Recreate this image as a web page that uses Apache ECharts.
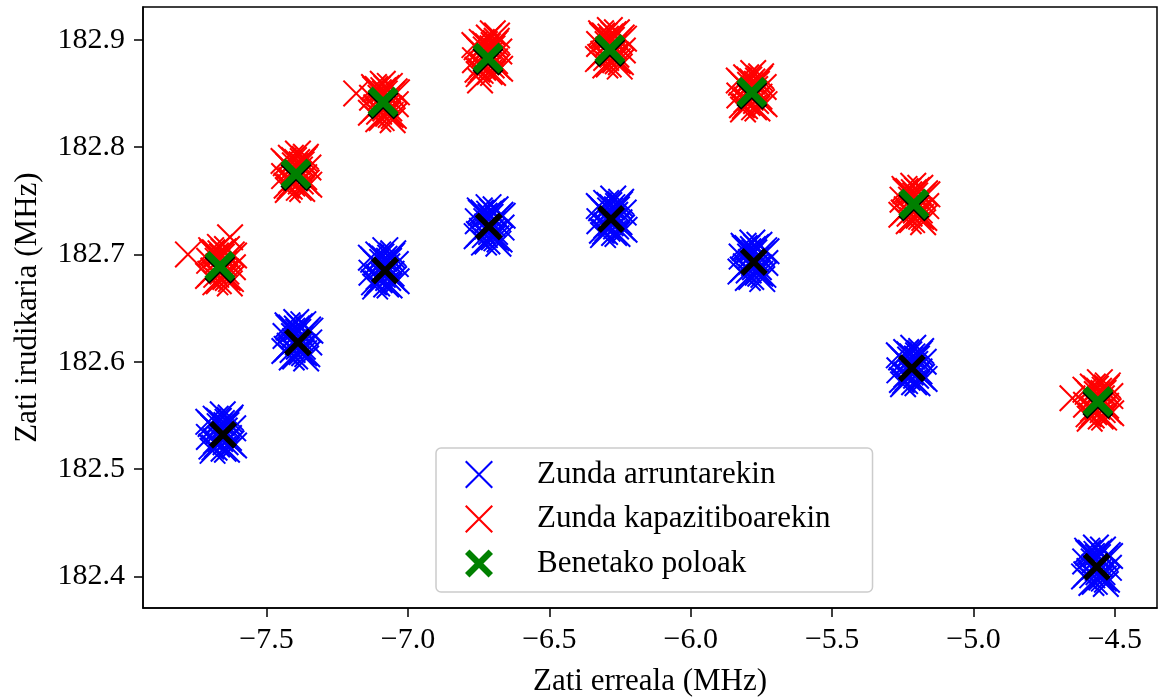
<!DOCTYPE html>
<html>
<head>
<meta charset="utf-8">
<script src="https://cdn.jsdelivr.net/npm/echarts@6/dist/echarts.min.js"></script>
<style>
html,body{margin:0;padding:0;background:#fff;}
#chart{width:1159px;height:697px;}
</style>
</head>
<body>
<div id="chart"></div>
<script>
// ---- Data ----
// Zunda arruntarekin (blue x markers): real parts (MHz)
const blueRe = [
  -7.660,-7.642,-7.679,-7.627,-7.695,-7.652,-7.669,-7.618,-7.704,-7.675,-7.655,-7.633,-7.688,-7.648,-7.664,-7.638,-7.684,-7.624,-7.698,-7.658,-7.672,-7.645,-7.680,-7.631,-7.691,-7.651,-7.666,-7.615,-7.706,-7.640,
  -7.389,-7.409,-7.372,-7.426,-7.356,-7.399,-7.382,-7.433,-7.349,-7.376,-7.395,-7.418,-7.363,-7.403,-7.386,-7.413,-7.367,-7.429,-7.353,-7.393,-7.379,-7.408,-7.370,-7.422,-7.360,-7.400,-7.388,-7.437,-7.345,-7.411,
  -7.085,-7.067,-7.104,-7.052,-7.120,-7.077,-7.094,-7.043,-7.129,-7.100,-7.080,-7.058,-7.113,-7.073,-7.089,-7.063,-7.109,-7.049,-7.123,-7.083,-7.097,-7.070,-7.105,-7.056,-7.116,-7.076,-7.091,-7.040,-7.131,-7.065,
  -6.709,-6.729,-6.692,-6.746,-6.676,-6.719,-6.702,-6.753,-6.669,-6.696,-6.715,-6.738,-6.683,-6.723,-6.706,-6.733,-6.687,-6.749,-6.673,-6.713,-6.699,-6.728,-6.690,-6.742,-6.680,-6.720,-6.708,-6.757,-6.665,-6.731,
  -6.279,-6.261,-6.298,-6.246,-6.314,-6.271,-6.288,-6.237,-6.323,-6.294,-6.274,-6.252,-6.307,-6.267,-6.283,-6.257,-6.303,-6.243,-6.317,-6.277,-6.291,-6.264,-6.299,-6.250,-6.310,-6.270,-6.285,-6.234,-6.325,-6.259,
  -5.776,-5.796,-5.759,-5.813,-5.743,-5.786,-5.769,-5.820,-5.736,-5.763,-5.782,-5.805,-5.750,-5.790,-5.773,-5.800,-5.754,-5.816,-5.740,-5.780,-5.766,-5.795,-5.757,-5.809,-5.747,-5.787,-5.775,-5.824,-5.732,-5.798,
  -5.218,-5.200,-5.237,-5.185,-5.253,-5.210,-5.227,-5.176,-5.262,-5.233,-5.213,-5.191,-5.246,-5.206,-5.222,-5.196,-5.242,-5.182,-5.256,-5.216,-5.230,-5.203,-5.238,-5.189,-5.249,-5.209,-5.224,-5.173,-5.264,-5.198,
  -4.561,-4.581,-4.544,-4.598,-4.528,-4.571,-4.554,-4.605,-4.521,-4.548,-4.567,-4.590,-4.535,-4.575,-4.558,-4.585,-4.539,-4.601,-4.525,-4.565,-4.551,-4.580,-4.542,-4.594,-4.532,-4.572,-4.560,-4.609,-4.517,-4.583
];
// Zunda arruntarekin: imaginary parts (MHz)
const blueIm = [
  182.533,182.541,182.526,182.548,182.521,182.519,182.545,182.538,182.530,182.523,182.551,182.529,182.539,182.536,182.528,182.544,182.520,182.524,182.542,182.543,182.535,182.525,182.547,182.546,182.517,182.531,182.540,182.522,182.544,182.518,
  182.618,182.629,182.614,182.634,182.607,182.605,182.633,182.624,182.618,182.609,182.637,182.615,182.627,182.624,182.614,182.632,182.608,182.612,182.630,182.631,182.621,182.611,182.635,182.632,182.603,182.619,182.628,182.610,182.629,182.604,
  182.686,182.694,182.679,182.701,182.674,182.672,182.698,182.691,182.683,182.676,182.704,182.682,182.692,182.689,182.681,182.697,182.673,182.677,182.695,182.696,182.688,182.678,182.700,182.699,182.670,182.684,182.693,182.675,182.697,182.671,
  182.725,182.736,182.721,182.741,182.714,182.712,182.740,182.731,182.725,182.716,182.744,182.722,182.734,182.731,182.721,182.739,182.715,182.719,182.737,182.738,182.728,182.718,182.742,182.739,182.710,182.726,182.735,182.717,182.736,182.711,
  182.734,182.742,182.727,182.749,182.722,182.720,182.746,182.739,182.731,182.724,182.752,182.730,182.740,182.737,182.729,182.745,182.721,182.725,182.743,182.744,182.736,182.726,182.748,182.747,182.718,182.732,182.741,182.723,182.745,182.719,
  182.692,182.703,182.688,182.708,182.681,182.679,182.707,182.698,182.692,182.683,182.711,182.689,182.701,182.698,182.688,182.706,182.682,182.686,182.704,182.705,182.695,182.685,182.709,182.706,182.677,182.693,182.702,182.684,182.703,182.678,
  182.595,182.603,182.588,182.610,182.583,182.581,182.607,182.600,182.592,182.585,182.613,182.591,182.601,182.598,182.590,182.606,182.582,182.586,182.604,182.605,182.597,182.587,182.609,182.608,182.579,182.593,182.602,182.584,182.606,182.580,
  182.408,182.419,182.404,182.424,182.397,182.395,182.423,182.414,182.408,182.399,182.427,182.405,182.417,182.414,182.404,182.422,182.398,182.402,182.420,182.421,182.411,182.401,182.425,182.422,182.393,182.409,182.418,182.400,182.419,182.394
];
// Zunda kapazitiboarekin (red x markers): real parts (MHz)
const redRe = [
  -7.659,-7.679,-7.642,-7.696,-7.626,-7.669,-7.652,-7.703,-7.619,-7.646,-7.665,-7.688,-7.633,-7.673,-7.656,-7.683,-7.637,-7.699,-7.623,-7.663,-7.649,-7.678,-7.640,-7.692,-7.630,-7.670,-7.658,-7.707,-7.615,-7.681,-7.778,-7.629,
  -7.394,-7.376,-7.413,-7.361,-7.429,-7.386,-7.403,-7.352,-7.438,-7.409,-7.389,-7.367,-7.422,-7.382,-7.398,-7.372,-7.418,-7.358,-7.432,-7.392,-7.406,-7.379,-7.414,-7.365,-7.425,-7.385,-7.400,-7.349,-7.440,-7.374,
  -7.083,-7.103,-7.066,-7.120,-7.050,-7.093,-7.076,-7.127,-7.043,-7.070,-7.089,-7.112,-7.057,-7.097,-7.080,-7.107,-7.061,-7.123,-7.047,-7.087,-7.073,-7.102,-7.064,-7.116,-7.054,-7.094,-7.082,-7.131,-7.039,-7.105,-7.183,
  -6.719,-6.701,-6.738,-6.686,-6.754,-6.711,-6.728,-6.677,-6.763,-6.734,-6.714,-6.692,-6.747,-6.707,-6.723,-6.697,-6.743,-6.683,-6.757,-6.717,-6.731,-6.704,-6.739,-6.690,-6.750,-6.710,-6.725,-6.674,-6.765,-6.699,-6.745,-6.685,-6.700,
  -6.280,-6.300,-6.263,-6.317,-6.247,-6.290,-6.273,-6.324,-6.240,-6.267,-6.286,-6.309,-6.254,-6.294,-6.277,-6.304,-6.258,-6.320,-6.244,-6.284,-6.270,-6.299,-6.261,-6.313,-6.251,-6.291,-6.279,-6.328,-6.236,-6.302,
  -5.784,-5.766,-5.803,-5.751,-5.819,-5.776,-5.793,-5.742,-5.828,-5.799,-5.779,-5.757,-5.812,-5.772,-5.788,-5.762,-5.808,-5.748,-5.822,-5.782,-5.796,-5.769,-5.804,-5.755,-5.815,-5.775,-5.790,-5.739,-5.830,-5.764,
  -5.207,-5.227,-5.190,-5.244,-5.174,-5.217,-5.200,-5.251,-5.167,-5.194,-5.213,-5.236,-5.181,-5.221,-5.204,-5.231,-5.185,-5.247,-5.171,-5.211,-5.197,-5.226,-5.188,-5.240,-5.178,-5.218,-5.206,-5.255,-5.163,-5.229,
  -4.558,-4.540,-4.577,-4.525,-4.593,-4.550,-4.567,-4.516,-4.602,-4.573,-4.553,-4.531,-4.586,-4.546,-4.562,-4.536,-4.582,-4.522,-4.596,-4.556,-4.570,-4.543,-4.578,-4.529,-4.589,-4.549,-4.564,-4.513,-4.604,-4.538,-4.650
];
// Zunda kapazitiboarekin: imaginary parts (MHz)
const redIm = [
  182.688,182.699,182.684,182.704,182.677,182.675,182.703,182.694,182.688,182.679,182.707,182.685,182.697,182.694,182.684,182.702,182.678,182.682,182.700,182.701,182.691,182.681,182.705,182.702,182.673,182.689,182.698,182.680,182.699,182.674,182.700,182.716,
  182.776,182.784,182.769,182.791,182.764,182.762,182.788,182.781,182.773,182.766,182.794,182.772,182.782,182.779,182.771,182.787,182.763,182.767,182.785,182.786,182.778,182.768,182.790,182.789,182.760,182.774,182.783,182.765,182.787,182.761,
  182.840,182.851,182.836,182.856,182.829,182.827,182.855,182.846,182.840,182.831,182.859,182.837,182.849,182.846,182.836,182.854,182.830,182.834,182.852,182.853,182.843,182.833,182.857,182.854,182.825,182.841,182.850,182.832,182.851,182.826,182.850,
  182.884,182.892,182.877,182.899,182.872,182.870,182.896,182.889,182.881,182.874,182.902,182.880,182.890,182.887,182.879,182.895,182.871,182.875,182.893,182.894,182.886,182.876,182.898,182.897,182.868,182.882,182.891,182.873,182.895,182.869,182.862,182.904,182.906,
  182.890,182.901,182.886,182.906,182.879,182.877,182.905,182.896,182.890,182.881,182.909,182.887,182.899,182.896,182.886,182.904,182.880,182.884,182.902,182.903,182.893,182.883,182.907,182.904,182.875,182.891,182.900,182.882,182.901,182.876,
  182.851,182.859,182.844,182.866,182.839,182.837,182.863,182.856,182.848,182.841,182.869,182.847,182.857,182.854,182.846,182.862,182.838,182.842,182.860,182.861,182.853,182.843,182.865,182.864,182.835,182.849,182.858,182.840,182.862,182.836,
  182.745,182.756,182.741,182.761,182.734,182.732,182.760,182.751,182.745,182.736,182.764,182.742,182.754,182.751,182.741,182.759,182.735,182.739,182.757,182.758,182.748,182.738,182.762,182.759,182.730,182.746,182.755,182.737,182.756,182.731,
  182.563,182.571,182.556,182.578,182.551,182.549,182.575,182.568,182.560,182.553,182.581,182.559,182.569,182.566,182.558,182.574,182.550,182.554,182.572,182.573,182.565,182.555,182.577,182.576,182.547,182.561,182.570,182.552,182.574,182.548,182.566
];
// Benetako poloak (green X)
const truePoleRe = [-7.665,-7.396,-7.088,-6.717,-6.286,-5.784,-5.211,-4.560];
const truePoleIm = [182.689,182.775,182.842,182.883,182.891,182.851,182.747,182.563];
// True poles of the plain probe (black x, no legend entry)
const plainPoleRe = [-7.654,-7.389,-7.081,-6.714,-6.282,-5.777,-5.218,-4.564];
const plainPoleIm = [182.532,182.618,182.685,182.726,182.733,182.693,182.594,182.409];

const xTicks = [-7.5,-7.0,-6.5,-6.0,-5.5,-5.0,-4.5];
const yTicks = [182.4,182.5,182.6,182.7,182.8,182.9];
const xLabel = 'Zati erreala (MHz)';
const yLabel = 'Zati irudikaria (MHz)';
const seriesNames = ['Zunda arruntarekin','Zunda kapazitiboarekin','Benetako poloak'];

// ---- Chart ----
const zip = (a, b) => a.map((v, i) => [v, b[i]]);
// filled "x" shapes (two diagonal bars with flat ends)
const X_THIN  = 'path://M2.8,-2.8L102.8,97.2L97.2,102.8L-2.8,2.8ZM102.8,2.8L2.8,102.8L-2.8,97.2L97.2,-2.8Z';
const X_BLACK = 'path://M8.1,-8.1L108.1,91.9L91.9,108.1L-8.1,8.1ZM108.1,8.1L8.1,108.1L-8.1,91.9L91.9,-8.1Z';
const X_GREEN = 'path://M9.5,-9.5L109.5,90.5L90.5,109.5L-9.5,9.5ZM109.5,9.5L9.5,109.5L-9.5,90.5L90.5,-9.5Z';
const FONT = 'Liberation Serif';

const chart = echarts.init(document.getElementById('chart'), null, {renderer: 'canvas'});
const axisCommon = {
  axisLine: {show: true, onZero: false, lineStyle: {color: '#000', width: 1.5}},
  splitLine: {show: false},
  nameTextStyle: {fontFamily: FONT, fontSize: 31, color: '#000'}
};
chart.setOption({
  animation: false,
  backgroundColor: '#fff',
  grid: {left: 143, right: 2, top: 7, bottom: 89, show: true, borderColor: '#000', borderWidth: 1.5,
    containLabel: false, outerBoundsMode: 'none'},
  xAxis: Object.assign({}, axisCommon, {
    type: 'value', min: -7.937, max: -4.351,
    name: xLabel, nameLocation: 'middle', nameGap: 58,
    axisTick: {show: true, length: 9, customValues: xTicks, lineStyle: {color: '#000', width: 1.5}},
    axisLabel: {customValues: xTicks, margin: 17, fontFamily: FONT, fontSize: 30, color: '#000',
      formatter: v => (v < 0 ? '\u2212' : '') + Math.abs(v).toFixed(1)}
  }),
  yAxis: Object.assign({}, axisCommon, {
    type: 'value', min: 182.3706, max: 182.9305,
    name: yLabel, nameLocation: 'middle', nameGap: 100,
    axisTick: {show: true, length: 9, customValues: yTicks, lineStyle: {color: '#000', width: 1.5}},
    axisLabel: {customValues: yTicks, margin: 18, fontFamily: FONT, fontSize: 30, color: '#000',
      formatter: v => v.toFixed(1)}
  }),
  legend: {
    data: seriesNames,
    orient: 'vertical',
    left: 436, top: 448,
    padding: [11, 42, 13, 29],
    itemWidth: 72, itemHeight: 28, itemGap: 13.5,
    backgroundColor: 'rgba(255,255,255,0.8)',
    borderColor: '#cccccc', borderWidth: 1.5, borderRadius: 5,
    selectedMode: false,
    textStyle: {fontFamily: FONT, fontSize: 31, color: '#000', padding: [0, 0, 0, 17]}
  },
  series: [
    {
      type: 'scatter', name: seriesNames[0], data: zip(blueRe, blueIm),
      symbol: X_THIN, symbolSize: 27,
      itemStyle: {color: '#0000ff', opacity: 1},
      emphasis: {disabled: true}, z: 2
    },
    {
      type: 'scatter', name: seriesNames[1], data: zip(redRe, redIm),
      symbol: X_THIN, symbolSize: 27,
      itemStyle: {color: '#ff0000', opacity: 1},
      emphasis: {disabled: true}, z: 3
    },
    {
      type: 'scatter', name: 'plain', data: zip(plainPoleRe, plainPoleIm),
      symbol: X_BLACK, symbolSize: 28,
      itemStyle: {color: '#000000', opacity: 1},
      emphasis: {disabled: true}, z: 4
    },
    {
      type: 'scatter', name: seriesNames[2], data: zip(truePoleRe, truePoleIm),
      symbol: X_GREEN, symbolSize: 31,
      itemStyle: {color: '#008000', opacity: 1, shadowColor: '#000', shadowBlur: 0, shadowOffsetX: 0, shadowOffsetY: 2},
      emphasis: {disabled: true}, z: 5
    }
  ]
});
</script>
</body>
</html>
